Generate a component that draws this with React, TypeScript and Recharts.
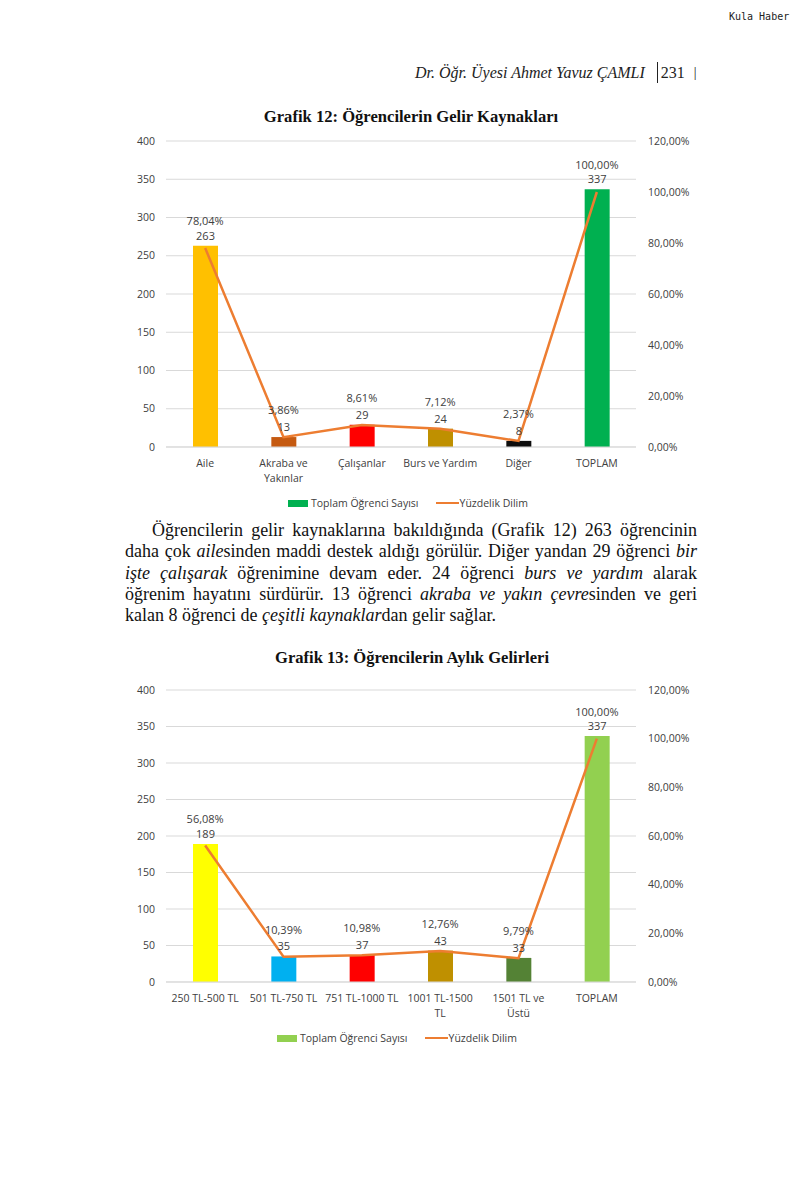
import React from "react";
import { ComposedChart, Bar, Line, XAxis, YAxis, CartesianGrid, Cell, LabelList } from "recharts";

// Grafik 12
const sourceNames = ["Aile", "Akraba ve\nYakınlar", "Çalışanlar", "Burs ve Yardım", "Diğer", "TOPLAM"];
const sourceCounts = [263, 13, 29, 24, 8, 337];
const sourceShares = [78.04, 3.86, 8.61, 7.12, 2.37, 100];
const sourceColors = ["#FFC000", "#C55A11", "#FF0000", "#BF9000", "#0D0D0D", "#00B050"];

// Grafik 13
const incomeBands = ["250 TL-500 TL", "501 TL-750 TL", "751 TL-1000 TL", "1001 TL-1500\nTL", "1501 TL ve\nÜstü", "TOPLAM"];
const incomeCounts = [189, 35, 37, 43, 33, 337];
const incomeShares = [56.08, 10.39, 10.98, 12.76, 9.79, 100];
const incomeColors = ["#FFFF00", "#00B0F0", "#FF0000", "#BF9000", "#548235", "#92D050"];

const countTicks = [0, 50, 100, 150, 200, 250, 300, 350, 400];
const shareTicks = [0, 20, 40, 60, 80, 100, 120];

const SANS = "'Open Sans', 'Noto Sans', sans-serif";
const SERIF = "'Liberation Serif', 'DejaVu Serif', serif";
const LINE_COLOR = "#ED7D31";
const TEXT = "#404040";

const pct = (v: number) => `${v.toFixed(2).replace(".", ",")}%`;

function CategoryTick(props: any) {
  const { x, y, payload } = props;
  const lines = String(payload.value).split("\n");
  return (
    <text x={x} y={y} textAnchor="middle" fill={TEXT} fontSize={10.5} fontFamily={SANS}>
      {lines.map((l, i) => (
        <tspan key={i} x={x} dy={i === 0 ? 12 : 15}>
          {l}
        </tspan>
      ))}
    </text>
  );
}

interface ChartProps {
  top: number;
  names: string[];
  counts: number[];
  shares: number[];
  colors: string[];
  plotHeight: number;
}

function DualChart({ top, names, counts, shares, colors, plotHeight }: ChartProps) {
  const data = names.map((name, i) => ({ name, count: counts[i], share: shares[i] }));
  return (
    <div style={{ position: "absolute", left: 110, top }}>
      <ComposedChart
        width={590}
        height={10 + plotHeight + 45}
        data={data}
        margin={{ top: 10, right: 0, bottom: 0, left: 0 }}
      >
        <CartesianGrid yAxisId="left" vertical={false} stroke="#D9D9D9" />
        <XAxis
          dataKey="name"
          height={45}
          interval={0}
          tickLine={false}
          axisLine={{ stroke: "#D9D9D9" }}
          tick={<CategoryTick />}
        />
        <YAxis
          yAxisId="left"
          width={56}
          domain={[0, 400]}
          ticks={countTicks}
          axisLine={false}
          tickLine={false}
          tickMargin={5}
          tick={{ fill: TEXT, fontSize: 10.5, fontFamily: SANS }}
        />
        <YAxis
          yAxisId="right"
          orientation="right"
          width={64}
          domain={[0, 120]}
          ticks={shareTicks}
          axisLine={false}
          tickLine={false}
          tickMargin={6}
          tickFormatter={pct}
          tick={{ fill: TEXT, fontSize: 10.5, fontFamily: SANS, textAnchor: "start" }}
        />
        <Bar yAxisId="left" dataKey="count" barSize={25} isAnimationActive={false}>
          {data.map((d, i) => (
            <Cell key={d.name} fill={colors[i]} />
          ))}
          <LabelList dataKey="count" position="top" offset={6} fill={TEXT} fontSize={11} fontFamily={SANS} />
        </Bar>
        <Line
          yAxisId="right"
          type="linear"
          dataKey="share"
          stroke={LINE_COLOR}
          strokeWidth={2.5}
          dot={false}
          activeDot={false}
          isAnimationActive={false}
        >
          <LabelList
            dataKey="share"
            position="top"
            offset={23}
            formatter={(v: any) => pct(Number(v))}
            fill={TEXT}
            fontSize={11}
            fontFamily={SANS}
          />
        </Line>
      </ComposedChart>
    </div>
  );
}

function ChartLegend({ top, left, color }: { top: number; left: number; color: string }) {
  return (
    <div
      style={{
        position: "absolute",
        top,
        left,
        display: "flex",
        alignItems: "center",
        fontFamily: SANS,
        fontSize: 10.5,
        color: TEXT,
        whiteSpace: "nowrap",
      }}
    >
      <span style={{ display: "inline-block", width: 20, height: 7, background: color, marginRight: 3 }} />
      <span>Toplam Öğrenci Sayısı</span>
      <span style={{ display: "inline-block", width: 23, height: 2.5, background: LINE_COLOR, marginLeft: 17, marginRight: 1 }} />
      <span>Yüzdelik Dilim</span>
    </div>
  );
}

function Title({ top, center, children }: { top: number; center: number; children: React.ReactNode }) {
  return (
    <div
      style={{
        position: "absolute",
        top,
        left: center,
        transform: "translateX(-50%)",
        whiteSpace: "nowrap",
        fontFamily: SERIF,
        fontWeight: "bold",
        fontSize: 16.6,
        color: "#111",
      }}
    >
      {children}
    </div>
  );
}

const lineStyle: React.CSSProperties = {
  textAlign: "justify",
  textAlignLast: "justify",
  whiteSpace: "nowrap",
  height: 21.3,
};

export default function App() {
  return (
    <div
      style={{
        position: "absolute",
        left: 0,
        top: 0,
        width: 800,
        height: 1199,
        background: "#fff",
        overflow: "hidden",
      }}
    >
      <div
        style={{
          position: "absolute",
          top: 11,
          left: 729,
          fontFamily: "'DejaVu Sans Mono', monospace",
          fontSize: 10,
          color: "#222",
        }}
      >
        Kula Haber
      </div>

      <div
        style={{
          position: "absolute",
          top: 62,
          left: 415,
          fontFamily: SERIF,
          fontSize: 16,
          color: "#222",
          whiteSpace: "nowrap",
          display: "flex",
          alignItems: "center",
        }}
      >
        <i>Dr. Öğr. Üyesi Ahmet Yavuz ÇAMLI</i>
        <span style={{ display: "inline-block", width: 1, height: 21, background: "#222", marginLeft: 12, marginRight: 3 }} />
        <span>231</span>
        <span style={{ marginLeft: 9, fontSize: 14 }}>|</span>
      </div>

      <Title top={107} center={411}>Grafik 12: Öğrencilerin Gelir Kaynakları</Title>
      <DualChart
        top={131}
        names={sourceNames}
        counts={sourceCounts}
        shares={sourceShares}
        colors={sourceColors}
        plotHeight={306}
      />
      <ChartLegend top={496} left={288} color={sourceColors[5]} />

      <div
        style={{
          position: "absolute",
          top: 520,
          left: 125,
          width: 572,
          fontFamily: SERIF,
          fontSize: 18,
          lineHeight: "21.3px",
          color: "#111",
        }}
      >
        <div style={{ ...lineStyle, paddingLeft: 27 }}>
          Öğrencilerin gelir kaynaklarına bakıldığında (Grafik 12) 263 öğrencinin
        </div>
        <div style={lineStyle}>
          daha çok <i style={{ fontFamily: SERIF }}>aile</i>sinden maddi destek aldığı görülür. Diğer yandan 29 öğrenci{" "}
          <i style={{ fontFamily: SERIF }}>bir</i>
        </div>
        <div style={lineStyle}>
          <i style={{ fontFamily: SERIF }}>işte çalışarak</i> öğrenimine devam eder. 24 öğrenci{" "}
          <i style={{ fontFamily: SERIF }}>burs ve yardım</i> alarak
        </div>
        <div style={lineStyle}>
          öğrenim hayatını sürdürür. 13 öğrenci <i style={{ fontFamily: SERIF }}>akraba ve yakın çevre</i>sinden ve geri
        </div>
        <div style={{ height: 21.3, whiteSpace: "nowrap" }}>
          kalan 8 öğrenci de <i style={{ fontFamily: SERIF }}>çeşitli kaynaklar</i>dan gelir sağlar.
        </div>
      </div>

      <Title top={648} center={412}>Grafik 13: Öğrencilerin Aylık Gelirleri</Title>
      <DualChart
        top={680}
        names={incomeBands}
        counts={incomeCounts}
        shares={incomeShares}
        colors={incomeColors}
        plotHeight={292}
      />
      <ChartLegend top={1031} left={277} color={incomeColors[5]} />
    </div>
  );
}
